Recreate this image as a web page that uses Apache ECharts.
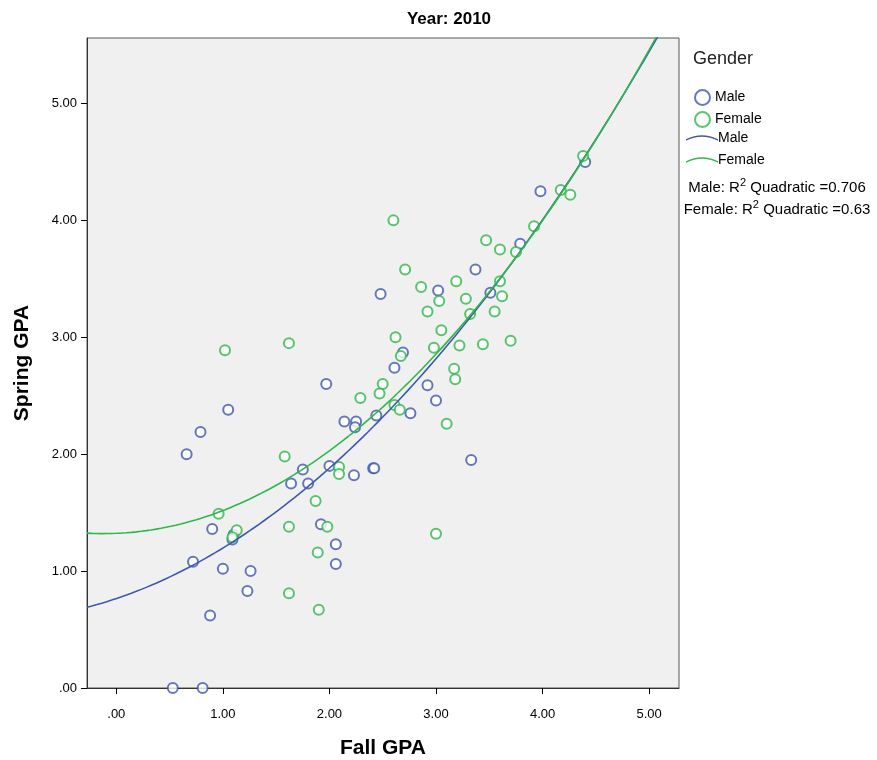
<!DOCTYPE html>
<html>
<head>
<meta charset="utf-8">
<script src="https://cdn.jsdelivr.net/npm/echarts@6/dist/echarts.min.js"></script>
<style>
  html, body { margin: 0; padding: 0; background: #fff; }
  #chart { width: 877px; height: 760px; }
</style>
</head>
<body>
<div id="chart"></div>
<script>
// Fall GPA / Spring GPA pairs
const maleFall = [4.40, 3.98, 3.79, 3.37, 3.02, 2.48, 3.51, 2.69, 1.97, 1.05, 0.79, 0.66, 2.14, 2.25, 2.24, 2.44,
  1.75, 2.00, 2.23, 2.41, 2.42, 1.64, 1.80, 0.90, 1.10, 1.09, 1.92, 2.06, 2.06, 0.72, 1.00, 1.26, 1.23, 0.88,
  0.53, 0.81, 2.61, 2.92, 3.00, 2.76, 3.33]
const maleSpring = [4.50, 4.25, 3.80, 3.58, 3.40, 3.37, 3.38, 2.87, 2.60, 2.38, 2.19, 2.00, 2.28, 2.28, 2.23, 2.33,
  1.87, 1.90, 1.82, 1.88, 1.88, 1.75, 1.75, 1.36, 1.31, 1.27, 1.40, 1.23, 1.06, 1.08, 1.02, 1.00, 0.83, 0.62,
  0.00, 0.00, 2.74, 2.59, 2.46, 2.35, 1.95]

const femaleFall = [4.38, 4.17, 4.26, 3.92, 2.60, 3.47, 3.60, 3.75, 2.71, 3.19, 2.86, 3.60, 3.62, 3.28, 3.03, 2.92,
  3.32, 3.55, 3.05, 2.62, 2.98, 3.22, 3.44, 3.70, 2.67, 1.02, 1.62, 2.29, 1.58, 2.09, 2.09, 1.87, 0.96, 1.13,
  1.09, 1.62, 1.98, 1.89, 1.62, 1.90, 3.17, 3.18, 2.50, 2.47, 2.61, 2.66, 3.10, 3.00]
const femaleSpring = [4.55, 4.26, 4.22, 3.95, 4.00, 3.83, 3.75, 3.73, 3.58, 3.48, 3.43, 3.48, 3.35, 3.33, 3.31, 3.22,
  3.20, 3.22, 3.06, 3.00, 2.91, 2.93, 2.94, 2.97, 2.84, 2.89, 2.95, 2.48, 1.98, 1.89, 1.83, 1.60, 1.49, 1.35,
  1.29, 1.38, 1.38, 1.16, 0.81, 0.67, 2.73, 2.64, 2.60, 2.52, 2.42, 2.38, 2.26, 1.32]

// quadratic fit lines: [const, x, x^2]
const maleFitCoef = [0.765, 0.306, 0.126]
const femaleFitCoef = [1.323, 0.037, 0.158]

const xTicks = [0, 1, 2, 3, 4, 5]
const fitLabels = ['Male: R', ' Quadratic =0.706', 'Female: R', ' Quadratic =0.63']

const xMin = -0.275
const xMax = 5.28
const yMax = 5.56

const maleColor = '#3e58ac'
const femaleColor = '#2eb848'
const font = '"Liberation Sans", Arial, sans-serif'

/** 拟合曲线取样 */
function curve(c) {
  const pts = []
  for (let i = 0; i <= 120; i++) {
    const x = xMin + (xMax - xMin) * i / 120
    pts.push([x, c[0] + c[1] * x + c[2] * x * x])
  }
  return pts
}

const zip = (a, b) => a.map((v, i) => [v, b[i]])
const fmt = v => (v === 0 ? '.00' : v.toFixed(2))

const chart = echarts.init(document.getElementById('chart'))

const lineIcon = 'path://M0,9 Q20,-1 40,9 L40,11 Q20,1 0,11 Z'

chart.setOption({
  animation: false,
  textStyle: { fontFamily: font },
  grid: {
    left: 87, top: 38, width: 592, height: 650,
    outerBoundsMode: 'none',
    containLabel: false,
    show: true,
    backgroundColor: '#f0f0f0',
    borderColor: '#555',
    borderWidth: 1
  },
  legend: [{
    data: ['Male', 'Female'],
    orient: 'vertical',
    left: 689,
    top: 84,
    itemWidth: 15,
    itemHeight: 15,
    itemGap: 5,
    icon: 'emptyCircle',
    textStyle: { fontSize: 14, color: '#000', fontFamily: font }
  }, {
    data: ['Male fit', 'Female fit'],
    orient: 'vertical',
    left: 681,
    top: 126,
    itemWidth: 32,
    itemHeight: 9,
    itemGap: 8,
    icon: lineIcon,
    formatter: name => name.replace(' fit', ''),
    textStyle: { fontSize: 14, color: '#000', fontFamily: font, padding: [0, 0, 0, -5] }
  }],
  graphic: [{
    type: 'text',
    x: 449,
    y: 11,
    style: { text: 'Year: 2010', align: 'center', fontSize: 17, fontWeight: 'bold', fill: '#000', fontFamily: font }
  }, {
    type: 'text',
    left: 693,
    top: 50,
    style: { text: 'Gender', fontSize: 18, fill: '#222', fontFamily: font }
  }, {
    type: 'text',
    x: 777,
    y: 177,
    style: {
      text: '{a|' + fitLabels[0] + '}{s|2}{a|' + fitLabels[1] + '}\n{a|' + fitLabels[2] + '}{s|2}{a|' + fitLabels[3] + '}',
      align: 'center',
      fontFamily: font,
      rich: {
        a: { fontSize: 15, fill: '#000', lineHeight: 22, fontFamily: font },
        s: { fontSize: 11, fill: '#000', lineHeight: 22, verticalAlign: 'top', padding: [0, 0, 7, 0], fontFamily: font }
      }
    }
  }],
  xAxis: {
    type: 'value',
    min: xMin,
    max: xMax,
    name: 'Fall GPA',
    nameLocation: 'middle',
    nameGap: 50,
    nameTextStyle: { fontSize: 21, fontWeight: 'bold', color: '#000', fontFamily: font },
    splitLine: { show: false },
    axisLine: { onZero: false, lineStyle: { color: '#333', width: 1 } },
    axisTick: { show: true, length: 6, customValues: xTicks, lineStyle: { color: '#000' } },
    axisLabel: { customValues: xTicks, formatter: fmt, fontSize: 13, color: '#000', margin: 20 }
  },
  yAxis: {
    type: 'value',
    min: 0,
    max: yMax,
    interval: 1,
    name: 'Spring GPA',
    nameLocation: 'middle',
    nameGap: 54,
    nameTextStyle: { fontSize: 21, fontWeight: 'bold', color: '#000', fontFamily: font },
    splitLine: { show: false },
    axisLine: { onZero: false, lineStyle: { color: '#333', width: 1 } },
    axisTick: { show: true, length: 6, lineStyle: { color: '#000' } },
    axisLabel: {
      formatter: v => (v > 5 ? '' : fmt(v)),
      fontSize: 13, color: '#000', margin: 10,
      showMaxLabel: false
    }
  },
  series: [{
    name: 'Male',
    type: 'scatter',
    symbol: 'emptyCircle',
    symbolSize: 10,
    itemStyle: { color: maleColor, borderWidth: 1.3 },
    data: zip(maleFall, maleSpring)
  }, {
    name: 'Female',
    type: 'scatter',
    symbol: 'emptyCircle',
    symbolSize: 10,
    itemStyle: { color: femaleColor, borderWidth: 1.3 },
    data: zip(femaleFall, femaleSpring)
  }, {
    name: 'Male fit',
    type: 'line',
    showSymbol: false,
    color: maleColor,
    lineStyle: { color: maleColor, width: 1.6 },
    data: curve(maleFitCoef)
  }, {
    name: 'Female fit',
    type: 'line',
    showSymbol: false,
    color: femaleColor,
    lineStyle: { color: femaleColor, width: 1.6 },
    data: curve(femaleFitCoef)
  }]
})
</script>
</body>
</html>
